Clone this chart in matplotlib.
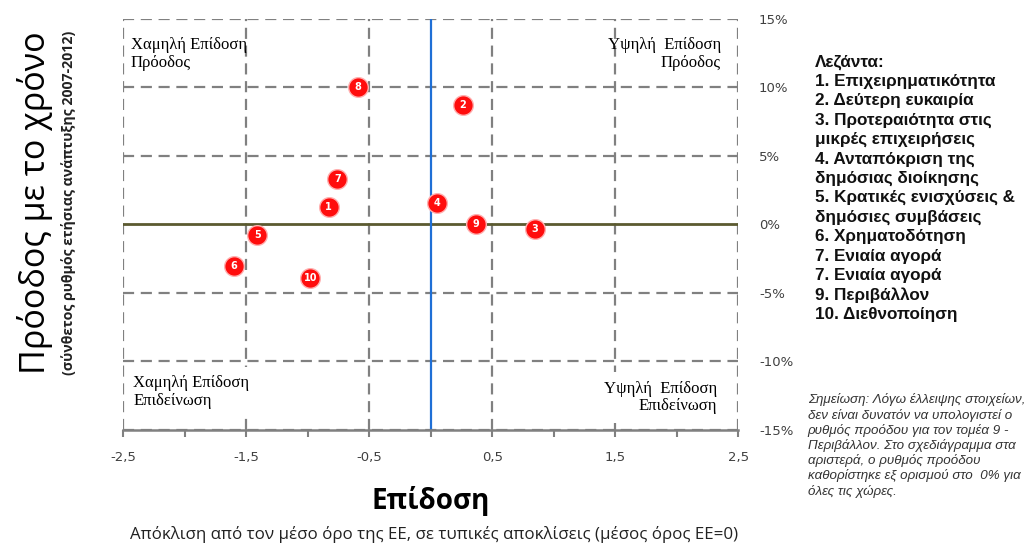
import numpy as np
import matplotlib.pyplot as plt

# data
sector_ids = ['1', '2', '3', '4', '5', '6', '7', '8', '9', '10']
performance = [-0.83, 0.26, 0.85, 0.05, -1.41, -1.60, -0.76, -0.59, 0.37, -0.98]
progress = [1.3, 8.7, -0.3, 1.6, -0.8, -3.0, 3.3, 10.0, 0.0, -3.9]

x_ticks = [-2.5, -1.5, -0.5, 0.5, 1.5, 2.5]
x_ticklabels = ['-2,5', '-1,5', '-0,5', '0,5', '1,5', '2,5']
y_ticks = [15, 10, 5, 0, -5, -10, -15]
y_ticklabels = ['15%', '10%', '5%', '0%', '-5%', '-10%', '-15%']

legend_lines = ['Λεζάντα:', '1. Επιχειρηματικότητα', '2. Δεύτερη ευκαιρία',
                '3. Προτεραιότητα στις', 'μικρές επιχειρήσεις',
                '4. Ανταπόκριση της', 'δημόσιας διοίκησης',
                '5. Κρατικές ενισχύσεις &', 'δημόσιες συμβάσεις',
                '6. Χρηματοδότηση', '7. Ενιαία αγορά', '7. Ενιαία αγορά',
                '9. Περιβάλλον', '10. Διεθνοποίηση']
note_lines = ['Σημείωση: Λόγω έλλειψης στοιχείων,',
              'δεν είναι δυνατόν να υπολογιστεί ο',
              'ρυθμός προόδου για τον τομέα 9 -',
              'Περιβάλλον. Στο σχεδιάγραμμα στα',
              'αριστερά, ο ρυθμός προόδου',
              'καθορίστηκε εξ ορισμού στο  0% για',
              'όλες τις χώρες.']

fig = plt.figure(figsize=(10.33, 5.47), dpi=100)
ax = fig.add_axes([0.1195, 0.2139, 0.595, 0.7514])
ax.set_xlim(-2.5, 2.5)
ax.set_ylim(-15, 15)

grid_kw = dict(color='#808080', lw=1.6, ls=(0, (5, 3)), zorder=1)
for xv in x_ticks:
    ax.axvline(xv, **grid_kw)
for yv in y_ticks:
    if yv != 0:
        ax.axhline(yv, **grid_kw)
ax.axhline(0, color='#5b5a30', lw=2, zorder=2)
ax.axvline(0, color='#1f6fd6', lw=1.6, zorder=2)

for s in ['left', 'right', 'top']:
    ax.spines[s].set_visible(False)
ax.spines['bottom'].set_color('#808080')
ax.spines['bottom'].set_linewidth(1.8)
ax.spines['bottom'].set_zorder(5)

# ticks every 0.5, labels only on the odd halves
all_x = np.round(np.arange(-2.5, 2.51, 0.5), 1)
ax.set_xticks(all_x)
ax.set_xticklabels([x_ticklabels[x_ticks.index(t)] if t in x_ticks else ''
                    for t in all_x])
ax.tick_params(axis='x', colors='#808080', width=1.5, length=5, pad=10,
               labelcolor='#404040', labelsize=9.5)
ax.yaxis.tick_right()
ax.set_yticks(y_ticks)
ax.set_yticklabels(y_ticklabels)
ax.tick_params(axis='y', length=0, pad=15, labelcolor='#404040', labelsize=9.5)

# quadrant labels
qfont = dict(family='Liberation Serif', fontsize=12, linespacing=1.15, zorder=4)
ax.text(-2.44, 13.7, 'Χαμηλή Επίδοση\nΠρόοδος', ha='left', va='top', **qfont)
ax.text(2.36, 13.7, 'Υψηλή  Επίδοση\nΠρόοδος', ha='right', va='top',
        multialignment='right', **qfont)
ax.text(-2.42, -11.0, 'Χαμηλή Επίδοση\nΕπιδείνωση', ha='left', va='top',
        bbox=dict(facecolor='white', edgecolor='none', pad=6), **qfont)
ax.text(2.33, -11.4, 'Υψηλή  Επίδοση\nΕπιδείνωση', ha='right', va='top',
        multialignment='right',
        bbox=dict(facecolor='white', edgecolor='none', pad=6), **qfont)

# points
ax.scatter(performance, progress, s=200, color='#ff0d0d', edgecolor='#ffb0b0',
           linewidth=1, zorder=6)
for lab, xv, yv in zip(sector_ids, performance, progress):
    ax.text(xv, yv, lab, ha='center', va='center', color='white',
            fontsize=7, fontweight='bold', zorder=7)

# axis titles
fig.text(0.034, 0.63, 'Πρόοδος με το χρόνο', rotation=90, ha='center',
         va='center', family='Open Sans', fontsize=24.5)
fig.text(0.066, 0.63, '(σύνθετος ρυθμός ετήσιας ανάπτυξης 2007-2012)',
         rotation=90, ha='center', va='center', family='Open Sans',
         fontsize=10.2, fontweight='bold', color='#222222')
fig.text(0.417, 0.085, 'Επίδοση', ha='center', va='center',
         family='Open Sans', fontsize=20, fontweight='bold')
fig.text(0.42, 0.022, 'Απόκλιση από τον μέσο όρο της ΕΕ, σε τυπικές αποκλίσεις (μέσος όρος ΕΕ=0)',
         ha='center', va='center', family='Open Sans', fontsize=12.2,
         color='#222222')

# legend and note
for i, line in enumerate(legend_lines):
    fig.text(0.789, 1 - (62 + i * 19.4) / 547, line, ha='left', va='center',
             family='Liberation Sans', fontsize=12.3, fontweight='bold',
             color='#111111')
for i, line in enumerate(note_lines):
    fig.text(0.782, 1 - (400 + i * 15.2) / 547, line, ha='left', va='center',
             family='Liberation Sans', fontsize=9.6, style='italic',
             color='#333333')

fig.savefig('out.png', dpi=100)
